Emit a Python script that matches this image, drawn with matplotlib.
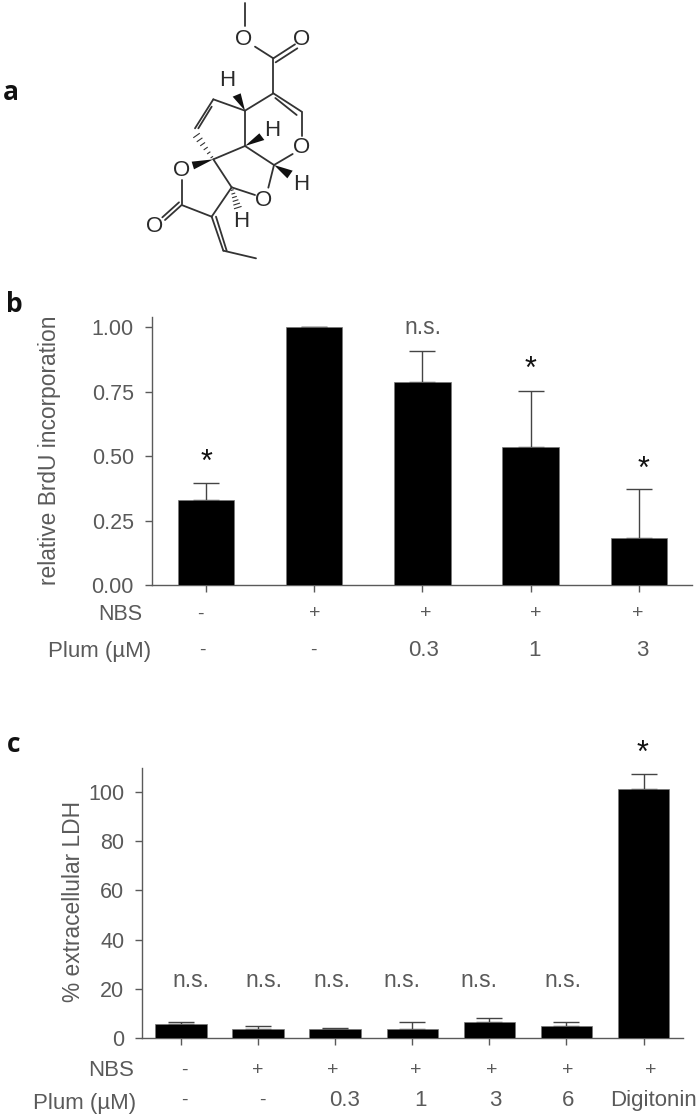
import matplotlib
matplotlib.use("Agg")
import matplotlib.pyplot as plt

plt.rcParams['font.family'] = ['Liberation Sans', 'DejaVu Sans']

GREY = '#5a5a5a'
W, H = 700, 1119

# panel b
b_values = [0.328, 1.0, 0.786, 0.534, 0.181]
b_errors = [0.067, 0.0, 0.121, 0.220, 0.192]
b_yticks = [0.0, 0.25, 0.5, 0.75, 1.0]
b_nbs = ['-', '+', '+', '+', '+']
b_plum = ['-', '-', '0.3', '1', '3']
b_marks = ['*', '', 'n.s.', '*', '*']
b_mark_y = [0.475, 0, 1.0, 0.835, 0.445]

# panel c
c_values = [5.7, 3.9, 3.9, 3.9, 6.6, 5.0, 101.0]
c_errors = [1.0, 1.1, 0.3, 2.7, 1.8, 1.6, 6.3]
c_yticks = [0, 20, 40, 60, 80, 100]
c_nbs = ['-', '+', '+', '+', '+', '+', '+']
c_plum = ['-', '-', '0.3', '1', '3', '6', 'Digitonin']
c_marks = ['n.s.', 'n.s.', 'n.s.', 'n.s.', 'n.s.', 'n.s.', '*']
c_mark_y = [23.5, 23.5, 23.5, 23.5, 23.5, 23.5, 115.5]

# small nudges of the hand placed labels in the original, in pixels
b_nbs_dx = [-6, 1, 3, 5, -1]
b_plum_dx = [-4, -1, 1, 4, 4]
b_mark_dx = [0, 0, 1, 0, 5]
c_nbs_dx = [4, 0, -2, 4, 2, 1, 7]
c_plum_dx = [4, 4, 9, 8, 6, 2, 10]
c_mark_dx = [10, 6, -3, -10, -10, -4, -1]

# molecule (zoomed pixels)
single_bonds = [
    [(345, 10), (345, 78)],
    [(375, 140), (430, 175)],
    [(430, 175), (430, 280)],
    [(430, 280), (345, 332)],
    [(345, 332), (250, 298)],
    [(345, 332), (345, 438)],
    [(250, 478), (345, 438)],
    [(345, 438), (432, 495)],
    [(432, 495), (488, 462)],
    [(515, 335), (515, 408)],
    [(432, 495), (415, 563)],
    [(375, 585), (305, 562)],
    [(305, 562), (250, 478)],
    [(155, 540), (155, 612)],
    [(155, 615), (245, 650)],
    [(245, 650), (305, 562)],
    [(280, 752), (378, 775)],
]
double_bonds = [
    [(430, 175), (495, 133), (437, 187), (502, 145)],
    [(430, 280), (515, 335), (436, 294), (500, 345)],
    [(250, 298), (195, 385), (245, 320), (205, 385)],
    [(155, 615), (105, 660), (147, 607), (97, 652)],
    [(245, 650), (280, 752), (258, 650), (290, 752)],
]
wedges = [
    [(345, 332), (308, 290), (332, 280)],
    [(345, 438), (388, 400), (403, 420)],
    [(432, 495), (488, 512), (472, 535)],
    [(250, 478), (185, 485), (192, 508)],
]
hashes = [
    [(250, 478), (195, 400)],
    [(305, 565), (325, 628)],
]
atoms = [
    ('O', 340, 118), ('O', 515, 118), ('H', 293, 243), ('H', 428, 390),
    ('O', 515, 443), ('H', 513, 553), ('O', 402, 600), ('O', 155, 510),
    ('O', 75, 680), ('H', 333, 665),
]


def px(p):
    return 130 + p[0] / 3, p[1] / 3


def make_axes(fig, left, right, top, bottom):
    ax = fig.add_axes([left / W, 1 - bottom / H, (right - left) / W, (bottom - top) / H])
    for side in ['top', 'right']:
        ax.spines[side].set_visible(False)
    for side in ['left', 'bottom']:
        ax.spines[side].set_color(GREY)
        ax.spines[side].set_linewidth(1.0)
    ax.tick_params(axis='both', length=5, width=1.0, color=GREY, labelcolor=GREY,
                   labelsize=15.5)
    ax.tick_params(axis='y', pad=8)
    ax.tick_params(axis='x', labelbottom=False)
    return ax


def draw_bars(ax, values, errors, width, cap):
    xs = list(range(len(values)))
    ax.bar(xs, values, width=width, color='black', edgecolor='#777777', linewidth=0.5,
           zorder=3)
    ax.errorbar(xs, values, yerr=[[0] * len(errors), errors], fmt='none', ecolor='#444444',
                elinewidth=1.0, capsize=cap, capthick=1.0, zorder=2)
    ax.set_xticks(xs)


def row_labels(ax, labels, dx, dy):
    # dy is pixels below the x axis
    for i, lab in enumerate(labels):
        ax.annotate(lab, xy=(i, 0), xycoords=ax.get_xaxis_transform(),
                    xytext=(dx[i] * 0.72, -dy * 0.72), textcoords='offset points',
                    ha='center', va='center', fontsize=16 if lab not in '-+' else 14,
                    color=GREY, annotation_clip=False)


def mark_labels(ax, marks, mark_y, dx):
    for i, lab in enumerate(marks):
        if lab == '*':
            ax.annotate(lab, xy=(i, mark_y[i]), xytext=(dx[i] * 0.72, 0),
                        textcoords='offset points', ha='center', va='center',
                        fontsize=22, color='#111111', annotation_clip=False)
        elif lab:
            ax.annotate(lab, xy=(i, mark_y[i]), xytext=(dx[i] * 0.72, 0),
                        textcoords='offset points', ha='center', va='center',
                        fontsize=16.5, color=GREY, annotation_clip=False)


fig = plt.figure(figsize=(W / 100, H / 100), dpi=100)

ax_b = make_axes(fig, 152, 691.7, 317, 585)
draw_bars(ax_b, b_values, b_errors, 0.52, 9.5)
ax_b.set_xlim(-0.5, 4.49)
ax_b.set_ylim(0, 1.04)
ax_b.set_yticks(b_yticks)
ax_b.set_yticklabels([f'{v:.2f}' for v in b_yticks])
row_labels(ax_b, b_nbs, b_nbs_dx, 29)
row_labels(ax_b, b_plum, b_plum_dx, 65)
mark_labels(ax_b, b_marks, b_mark_y, b_mark_dx)

ax_c = make_axes(fig, 142.3, 683.3, 768.3, 1038.3)
draw_bars(ax_c, c_values, c_errors, 0.666, 9.5)
ax_c.set_xlim(-0.5, 6.515)
ax_c.set_ylim(0, 109.6)
ax_c.set_yticks(c_yticks)
row_labels(ax_c, c_nbs, c_nbs_dx, 32)
row_labels(ax_c, c_plum, c_plum_dx, 62)
mark_labels(ax_c, c_marks, c_mark_y, c_mark_dx)

# overlay in pixels for the molecule and loose labels
ov = fig.add_axes([0, 0, 1, 1], facecolor='none')
ov.set_xlim(0, W)
ov.set_ylim(H, 0)
ov.axis('off')

ov.text(50, 450, 'relative BrdU incorporation', rotation=90, ha='center', va='center',
        fontsize=16.4, color=GREY)
ov.text(73, 901, '% extracellular LDH', rotation=90, ha='center', va='center',
        fontsize=16.4, color=GREY)
ov.text(142, 614, 'NBS', ha='right', va='center', fontsize=15.5, color=GREY)
ov.text(151, 652, 'Plum (µM)', ha='right', va='center', fontsize=16, color=GREY)
ov.text(134, 1070, 'NBS', ha='right', va='center', fontsize=16, color=GREY)
ov.text(136, 1103, 'Plum (µM)', ha='right', va='center', fontsize=16, color=GREY)

for lab, x, y in [('a', 11, 92), ('b', 14, 305), ('c', 14, 745)]:
    ov.text(x, y, lab, ha='center', va='center', fontsize=19, fontweight='bold',
            family=['Open Sans', 'DejaVu Sans'], color='#111111')

BOND = '#333333'
for p, q in single_bonds:
    ov.plot(*zip(px(p), px(q)), color=BOND, lw=1.3, solid_capstyle='round')
for a, b, c, d in double_bonds:
    ov.plot(*zip(px(a), px(b)), color=BOND, lw=1.3, solid_capstyle='round')
    ov.plot(*zip(px(c), px(d)), color=BOND, lw=1.3, solid_capstyle='round')
for tri in wedges:
    ov.fill(*zip(*[px(p) for p in tri]), color='#111111', lw=0)
for p, q in hashes:
    for k in range(6):
        t = (k + 0.5) / 6
        cx = p[0] + (q[0] - p[0]) * t
        cy = p[1] + (q[1] - p[1]) * t
        half = 2 + 9 * t
        nx = -(q[1] - p[1])
        ny = q[0] - p[0]
        norm = (nx ** 2 + ny ** 2) ** 0.5
        nx, ny = nx / norm * half, ny / norm * half
        ov.plot(*zip(px((cx - nx, cy - ny)), px((cx + nx, cy + ny))), color=BOND, lw=0.8)
for lab, x, y in atoms:
    x0, y0 = px((x, y))
    ov.text(x0, y0, lab, ha='center', va='center', fontsize=16, color='#2a2a2a')

fig.savefig('out.png', dpi=100)
